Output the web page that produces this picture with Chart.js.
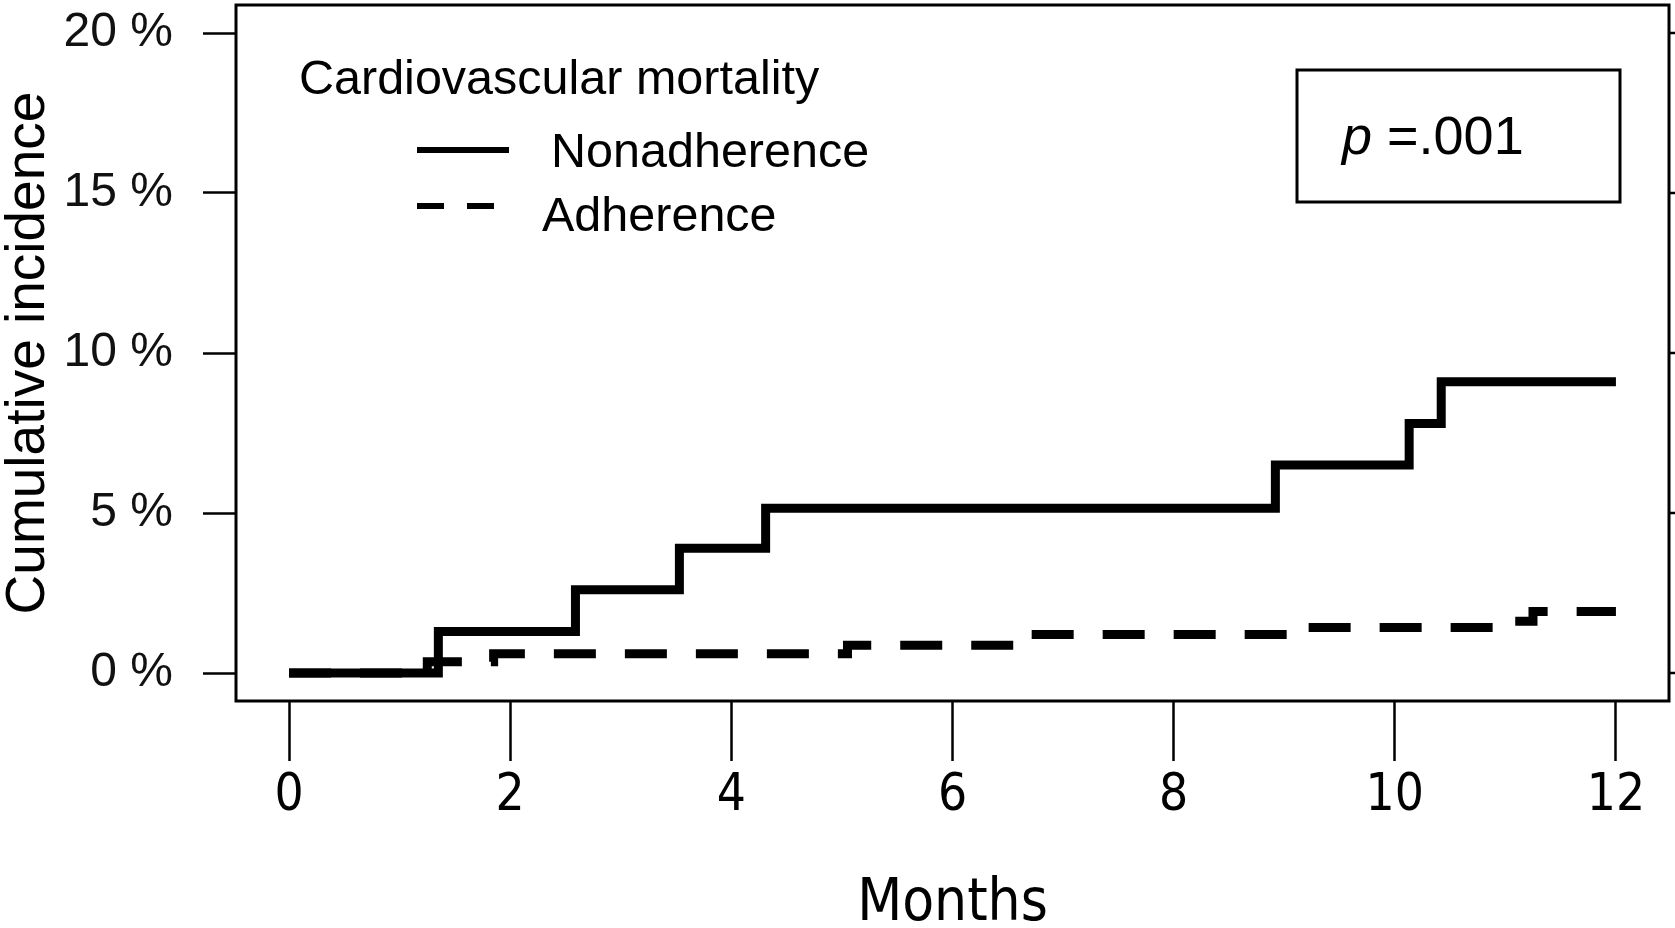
<!DOCTYPE html>
<html>
<head>
<meta charset="utf-8">
<script src="https://cdn.jsdelivr.net/npm/chart.js@4.4.1/dist/chart.umd.min.js"></script>
<style>
  html, body { margin: 0; padding: 0; background: #fff; }
  canvas { display: block; }
</style>
</head>
<body>
<canvas id="km" width="1675" height="928"></canvas>
<script>
// Kaplan-Meier style cumulative incidence (months, %)
const nonadherenceMonths = [0, 1.35, 2.59, 3.53, 4.31, 8.92, 10.13, 10.42, 12];
const nonadherenceValues = [0, 1.3, 2.6, 3.9, 5.15, 6.5, 7.8, 9.1, 9.1];
const adherenceMonths = [0, 1.25, 1.85, 5.05, 6.65, 9.07, 10.9, 11.25, 12];
const adherenceValues = [0, 0.35, 0.6, 0.87, 1.2, 1.42, 1.62, 1.92, 1.92];

const xTicks = [0, 2, 4, 6, 8, 10, 12];
const yTicks = [0, 5, 10, 15, 20];

const legendTitle = 'Cardiovascular mortality';
const seriesNames = ['Nonadherence', 'Adherence'];

const SANS = '"Liberation Sans", Arial, Helvetica, sans-serif';
const NARROW = '"Liberation Sans Narrow", "DejaVu Sans Condensed", ' + SANS;

const toPoints = (xs, ys) => xs.map((x, i) => ({ x: x, y: ys[i] }));

// box around plot area + legend + p-value, R style
const framePlugin = {
    id: 'frame',
    afterDraw(chart) {
        const { ctx, chartArea: a } = chart;
        const yScale = chart.scales.y;
        ctx.save();
        ctx.strokeStyle = '#000';
        ctx.lineWidth = 3;
        ctx.strokeRect(a.left, a.top, a.right - a.left, a.bottom - a.top);

        // little stubs on the right side (cut by the picture edge)
        ctx.lineWidth = 2.5;
        yTicks.forEach(v => {
            const py = yScale.getPixelForValue(v);
            ctx.beginPath();
            ctx.moveTo(a.right, py);
            ctx.lineTo(chart.width, py);
            ctx.stroke();
        });

        // legend
        const ds = chart.data.datasets;
        ctx.fillStyle = '#000';
        ctx.textBaseline = 'middle';
        ctx.textAlign = 'left';
        ctx.font = '48.5px ' + SANS;
        ctx.fillText(legendTitle, 299, 81);

        ctx.lineWidth = 6;
        ctx.lineCap = 'butt';
        ctx.setLineDash([]);
        ctx.beginPath();
        ctx.moveTo(417, 150);
        ctx.lineTo(509, 150);
        ctx.stroke();
        ctx.fillText(ds[0].label, 551, 154);

        ctx.setLineDash([27, 23]);
        ctx.beginPath();
        ctx.moveTo(417, 206);
        ctx.lineTo(495, 206);
        ctx.stroke();
        ctx.setLineDash([]);
        ctx.fillText(ds[1].label, 542, 218);

        // p-value box
        ctx.lineWidth = 3;
        ctx.strokeRect(1297, 70, 323, 132);
        ctx.font = 'italic 54px ' + SANS;
        ctx.fillText('p', 1342, 139);
        const pw = ctx.measureText('p').width;
        ctx.font = '54px ' + SANS;
        ctx.fillText(' =.001', 1342 + pw, 139);
        ctx.restore();
    }
};

new Chart(document.getElementById('km'), {
    type: 'line',
    data: {
        datasets: [
            {
                label: seriesNames[0],
                data: toPoints(nonadherenceMonths, nonadherenceValues),
                borderColor: '#000',
                borderWidth: 9,
                stepped: true,
                pointRadius: 0,
                borderJoinStyle: 'miter',
                borderCapStyle: 'butt',
                fill: false,
                order: 0
            },
            {
                label: seriesNames[1],
                data: toPoints(adherenceMonths, adherenceValues),
                borderColor: '#000',
                borderWidth: 9,
                borderDash: [42, 29],
                stepped: true,
                pointRadius: 0,
                borderJoinStyle: 'miter',
                borderCapStyle: 'butt',
                fill: false,
                order: 1
            }
        ]
    },
    options: {
        responsive: false,
        devicePixelRatio: 1,
        animation: false,
        layout: { padding: { left: 0, right: 6, top: 5, bottom: 0 } },
        plugins: {
            legend: { display: false },
            tooltip: { enabled: false }
        },
        scales: {
            x: {
                type: 'linear',
                min: -0.48,
                max: 12.48,
                afterBuildTicks: (scale) => {
                    scale.ticks = xTicks.map(v => ({ value: v }));
                },
                afterFit: (scale) => {
                    scale.height = 227;
                    scale.paddingLeft = 0;
                    scale.paddingRight = 0;
                },
                grid: {
                    drawOnChartArea: false,
                    drawTicks: true,
                    tickLength: 60,
                    tickColor: '#000',
                    tickWidth: 2.5
                },
                border: { display: false },
                ticks: {
                    color: '#000',
                    padding: 5,
                    maxRotation: 0,
                    autoSkip: false,
                    font: { family: NARROW, size: 51 },
                    callback: (v) => String(v)
                },
                title: {
                    display: true,
                    text: 'Months',
                    color: '#000',
                    padding: { top: 0, bottom: 0 },
                    font: { family: NARROW, size: 58, lineHeight: 0.8 }
                }
            },
            y: {
                type: 'linear',
                min: -0.875,
                max: 20.875,
                afterBuildTicks: (scale) => {
                    scale.ticks = yTicks.map(v => ({ value: v }));
                },
                afterFit: (scale) => {
                    scale.width = 236;
                    scale.paddingTop = 0;
                    scale.paddingBottom = 0;
                },
                grid: {
                    drawOnChartArea: false,
                    drawTicks: true,
                    tickLength: 33,
                    tickColor: '#000',
                    tickWidth: 2.5
                },
                border: { display: false },
                ticks: {
                    color: '#111',
                    padding: 30,
                    autoSkip: false,
                    font: { family: SANS, size: 48 },
                    callback: (v) => v + ' %'
                },
                title: {
                    display: true,
                    text: 'Cumulative incidence',
                    color: '#000',
                    padding: { top: 1, bottom: 0 },
                    font: { family: SANS, size: 55, lineHeight: 1 }
                }
            }
        }
    },
    plugins: [framePlugin]
});
</script>
</body>
</html>
